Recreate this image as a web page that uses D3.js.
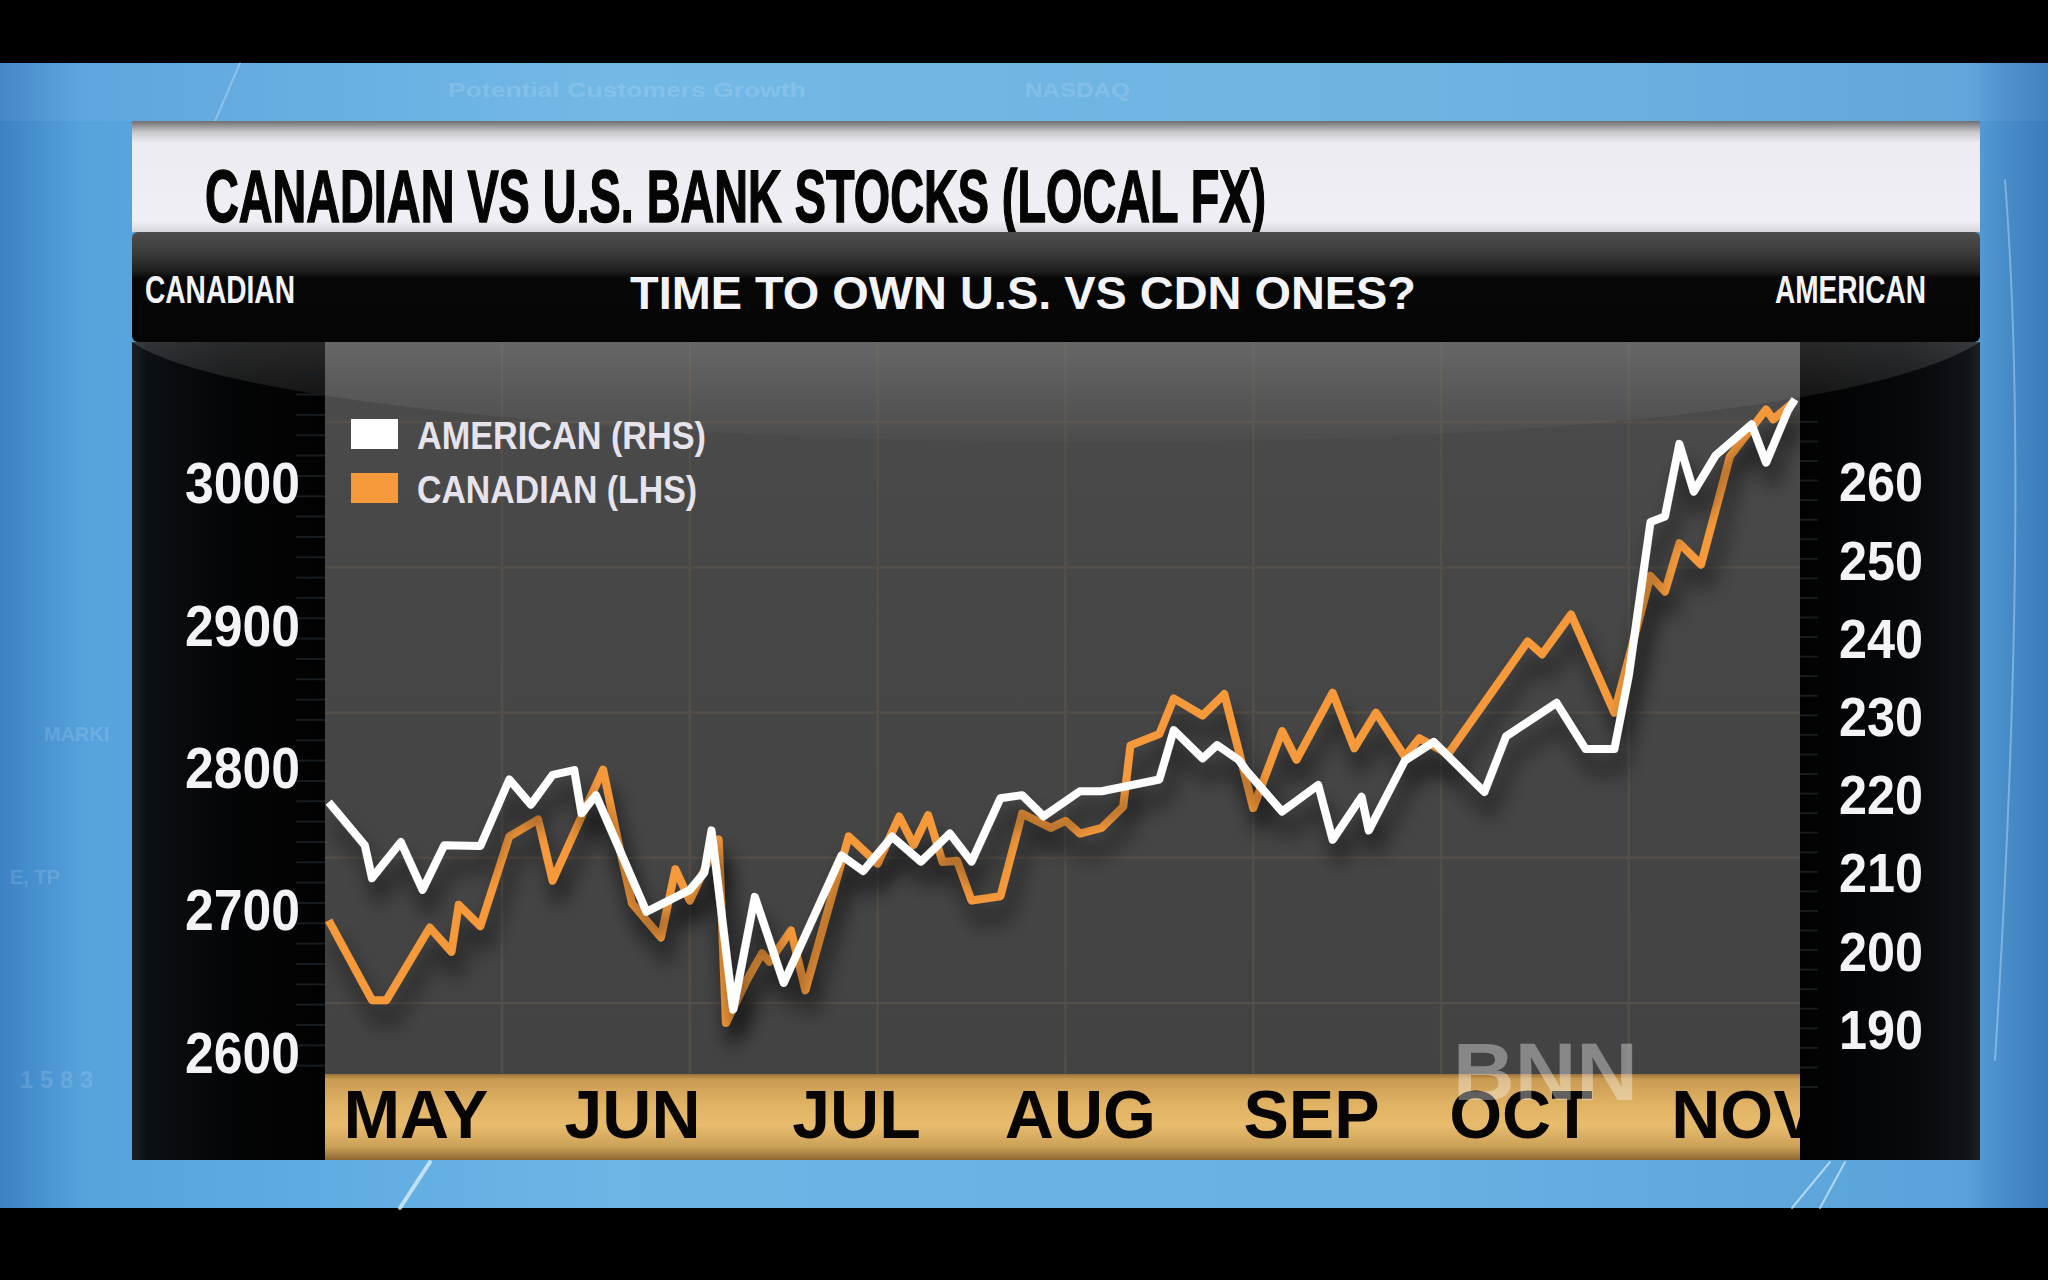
<!DOCTYPE html>
<meta charset="utf-8">
<script src="https://d3js.org/d3.v7.min.js"></script>
<style>
body { margin: 0; background: #000; }
</style>
<div id="chart"></div>
<script>
// trading data (day = days after May 1)
var usDay = [2,7,8,12,15,18,23,27,30,33,36,37,39,46,52,54,55,58,61,65,
  73,76,80,84,88,91,95,98,101,106,109,117,119,123,125,128,129,134,139,141,
  145,146,151,155,162,165,172,176,180,182,185,187,189,191,194,199,201,204,205];
var usVal = [218.9,213.4,209.2,213.8,207.7,213.4,213.3,221.8,218.6,222.4,
  223.0,217.5,219.8,204.9,207.7,209.9,215.3,192.4,206.8,195.8,
  212.1,210.1,214.5,211.3,214.9,211.3,219.4,219.8,217.1,220.3,
  220.3,221.8,228.1,224.5,226.2,224.3,223.0,217.7,221.1,214.1,
  219.6,215.3,224.2,226.6,220.2,227.3,231.6,225.7,225.7,235.1,
  254.7,255.4,264.7,258.6,263.2,267.2,262.3,268.9,270.4];

var cdnDay = [2,8,10,16,19,20,23,27,31,33,37,40,42,44,48,50,52,56,57,60,
  62,63,66,68,74,78,81,83,85,87,89,91,95,98,102,104,106,109,112,113,
  117,119,123,126,130,134,136,141,144,147,151,153,157,168,170,174,180,185,187,189,
  192,196,201,202,205];
var cdnVal = [2692,2636,2636,2687,2670,2703,2688,2751,2763,2720,
  2765,2798,2749,2704,2680,2728,2706,2749,2620,2651,
  2669,2663,2685,2643,2751,2732,2765,2745,2766,2733,
  2734,2706,2709,2767,2757,2762,2753,2757,2772,2815,
  2823,2848,2836,2851,2771,2825,2805,2852,2813,2838,
  2807,2820,2809,2888,2879,2907,2838,2934,2923,2957,
  2942,3018,3051,3044,3057];

var monthNames = ["MAY","JUN","JUL","AUG","SEP","OCT","NOV"];
var monthDay = [14, 44, 75, 106, 138, 167, 198];
var leftTicks = [2600, 2700, 2800, 2900, 3000];
var rightTicks = [190, 200, 210, 220, 230, 240, 250, 260];
var gridDay = [26, 52, 78, 104, 130, 156, 182];
var gridVal = [3042, 2940, 2838, 2736, 2634];

var W = 2048, H = 1280;
var plot = {left: 325, right: 1800, top: 342, bottom: 1074};
var panel = {left: 132, right: 1980, top: 232, bottom: 1160};
var font = "'Liberation Sans',Arial,Helvetica,sans-serif";

var svg = d3.select("#chart").append("svg")
  .attr("width", W).attr("height", H);

var defs = svg.append("defs");
function grad(id, stops, vertical) {
  var g = defs.append("linearGradient").attr("id", id)
    .attr("x1", 0).attr("y1", 0).attr("x2", vertical ? 0 : 1).attr("y2", vertical ? 1 : 0);
  stops.forEach(function(s) {
    g.append("stop").attr("offset", s[0]).attr("stop-color", s[1])
      .attr("stop-opacity", s[2] == null ? 1 : s[2]);
  });
}
grad("bg", [[0,"#3b82c4"],[0.04,"#56a2dc"],[0.3,"#6cb6e6"],[0.7,"#66b0e2"],[0.96,"#5aa3da"],[0.975,"#4a90cc"],[1,"#3a7cbc"]]);
grad("title", [[0,"#6e6e70"],[0.1,"#c9c9cd"],[0.2,"#ecebf2"],[0.9,"#f0eff6"],[1,"#d6d6dc"]], true);
grad("head", [[0,"#4e4e4e"],[0.2,"#3a3a3a"],[0.36,"#1e1e1e"],[0.42,"#070707"],[1,"#050505"]], true);
grad("colL", [[0,"#1a2026"],[0.08,"#0c1014"],[0.5,"#040506"],[1,"#020202"]]);
grad("colR", [[0,"#020202"],[0.6,"#06080a"],[0.93,"#101418"],[1,"#1c2228"]]);
grad("plotBg", [[0,"#4c4c4c"],[0.3,"#474747"],[1,"#434343"]], true);
grad("gloss", [[0,"#ffffff",0.15],[0.5,"#ffffff",0.08],[1,"#ffffff",0.015]], true);
grad("gold", [[0,"#9a7038"],[0.06,"#c99a52"],[0.35,"#e0b264"],[0.6,"#e8bc6e"],[0.85,"#caa058"],[1,"#8e6632"]], true);

var shadow = defs.append("filter").attr("id", "shadow")
  .attr("x", "-10%").attr("y", "-20%").attr("width", "120%").attr("height", "160%");
shadow.append("feDropShadow").attr("dx", 6).attr("dy", 20)
  .attr("stdDeviation", 10).attr("flood-color", "#000").attr("flood-opacity", 0.65);

defs.append("clipPath").attr("id", "plotClip").append("rect")
  .attr("x", plot.left).attr("y", plot.top)
  .attr("width", plot.right - plot.left).attr("height", plot.bottom - plot.top);
defs.append("clipPath").attr("id", "goldClip").append("rect")
  .attr("x", plot.left).attr("y", 0)
  .attr("width", plot.right - plot.left).attr("height", panel.bottom - plot.bottom);

// backdrop
svg.append("rect").attr("width", W).attr("height", H).attr("fill", "#000");
svg.append("rect").attr("y", 63).attr("width", W).attr("height", 1208 - 63).attr("fill", "url(#bg)");
svg.append("rect").attr("y", 63).attr("width", W).attr("height", 58).attr("fill", "#ffffff").attr("opacity", 0.05);

// faint studio graphics
var faint = svg.append("g").attr("fill", "#ffffff").attr("opacity", 0.13)
  .style("font-family", font).style("font-weight", "bold");
faint.append("text").attr("x", 448).attr("y", 97).attr("textLength", 358).attr("lengthAdjust", "spacingAndGlyphs")
  .style("font-size", "20px").text("Potential Customers  Growth");
faint.append("text").attr("x", 1025).attr("y", 97).attr("textLength", 105).attr("lengthAdjust", "spacingAndGlyphs")
  .style("font-size", "20px").text("NASDAQ");
faint.append("text").attr("x", 44).attr("y", 741).style("font-size", "20px").text("MARKI");
faint.append("text").attr("x", 10).attr("y", 884).style("font-size", "20px").text("E, TP");
faint.append("text").attr("x", 20).attr("y", 1088).style("font-size", "24px").text("1 5 8 3");
var streaks = svg.append("g").attr("fill", "none").attr("stroke", "#e8f6ff").attr("stroke-linecap", "round");
streaks.append("path").attr("d", "M400,1208 L430,1162").attr("stroke-width", 4).attr("opacity", 0.7);
streaks.append("path").attr("d", "M1792,1208 L1830,1162 M1820,1208 L1845,1162").attr("stroke-width", 2).attr("opacity", 0.6);
streaks.append("path").attr("d", "M2005,180 Q2030,500 1995,1060").attr("stroke-width", 2).attr("opacity", 0.35);
streaks.append("path").attr("d", "M240,63 L215,121").attr("stroke-width", 2).attr("opacity", 0.3);

// title bar
svg.append("rect").attr("x", panel.left).attr("y", 121)
  .attr("width", panel.right - panel.left).attr("height", 111).attr("fill", "url(#title)");
svg.append("text").attr("x", 205).attr("y", 222)
  .attr("textLength", 1061).attr("lengthAdjust", "spacingAndGlyphs")
  .style("font-family", font).style("font-weight", "bold").style("font-size", "74px")
  .attr("fill", "#050505").attr("stroke", "#050505").attr("stroke-width", 1.6)
  .text("CANADIAN VS U.S. BANK STOCKS (LOCAL FX)");

// dark panel
svg.append("rect").attr("x", panel.left).attr("y", panel.top)
  .attr("width", panel.right - panel.left).attr("height", plot.top - panel.top)
  .attr("rx", 6).attr("fill", "url(#head)");
svg.append("rect").attr("x", panel.left).attr("y", plot.top)
  .attr("width", plot.left - panel.left).attr("height", panel.bottom - plot.top).attr("fill", "url(#colL)");
svg.append("rect").attr("x", plot.right).attr("y", plot.top)
  .attr("width", panel.right - plot.right).attr("height", panel.bottom - plot.top).attr("fill", "url(#colR)");
svg.append("rect").attr("x", plot.left).attr("y", plot.top)
  .attr("width", plot.right - plot.left).attr("height", plot.bottom - plot.top).attr("fill", "url(#plotBg)");

var head = svg.append("g").attr("fill", "#f4f4f8")
  .style("font-family", font).style("font-weight", "bold");
head.append("text").attr("x", 145).attr("y", 303).attr("textLength", 150)
  .attr("lengthAdjust", "spacingAndGlyphs").style("font-size", "39px").text("CANADIAN");
head.append("text").attr("x", 1926).attr("y", 303).attr("text-anchor", "end").attr("textLength", 151)
  .attr("lengthAdjust", "spacingAndGlyphs").style("font-size", "39px").text("AMERICAN");
head.append("text").attr("x", 1023).attr("y", 309).attr("text-anchor", "middle").attr("textLength", 786)
  .attr("lengthAdjust", "spacingAndGlyphs").style("font-size", "46px").text("TIME TO OWN U.S. VS CDN ONES?");

// scales
var x = d3.scaleLinear().domain([1.49, 205.7]).range([plot.left, plot.right]);
var yL = d3.scaleLinear().domain([2600, 3000]).range([1051.4, 482]);
var yR = d3.scaleLinear().domain([190, 260]).range([1028.3, 480.6]);

// grid
var grid = svg.append("g").attr("stroke", "#59524a").attr("stroke-width", 2.5).attr("opacity", 0.75);
grid.selectAll(".gx").data(gridDay).enter().append("line")
  .attr("x1", function(d) { return x(d); }).attr("x2", function(d) { return x(d); })
  .attr("y1", plot.top).attr("y2", plot.bottom);
grid.selectAll(".gy").data(gridVal).enter().append("line")
  .attr("x1", plot.left).attr("x2", plot.right)
  .attr("y1", function(d) { return yL(d); }).attr("y2", function(d) { return yL(d); });

// gloss over the top of the panel
svg.append("path")
  .attr("d", "M" + panel.left + "," + plot.top + " L" + panel.right + "," + plot.top +
    " C1750,490 300,460 " + panel.left + "," + plot.top + " Z")
  .attr("fill", "url(#gloss)");

// faint minor ticks on the side columns
svg.append("g").attr("stroke", "#171c20").attr("stroke-width", 2)
  .selectAll("line").data(d3.range(2590, 3080, 100 / 7)).enter().append("line")
  .attr("x1", 296).attr("x2", plot.left)
  .attr("y1", function(d) { return yL(d); }).attr("y2", function(d) { return yL(d); });
svg.append("g").attr("stroke", "#171c20").attr("stroke-width", 2)
  .selectAll("line").data(d3.range(182.5, 270, 2.5)).enter().append("line")
  .attr("x1", plot.right).attr("x2", plot.right + 18)
  .attr("y1", function(d) { return yR(d); }).attr("y2", function(d) { return yR(d); });

// axes
var axL = svg.append("g").attr("transform", "translate(300,0)")
  .call(d3.axisLeft(yL).tickValues(leftTicks).tickSize(0).tickPadding(0).tickFormat(d3.format("d")));
axL.select(".domain").remove();
axL.selectAll("text").attr("dy", "0.36em").attr("fill", "#f3f3f7")
  .attr("textLength", 115).attr("lengthAdjust", "spacingAndGlyphs")
  .style("font-family", font).style("font-weight", "bold").style("font-size", "58px");

var axR = svg.append("g").attr("transform", "translate(1839,0)")
  .call(d3.axisRight(yR).tickValues(rightTicks).tickSize(0).tickPadding(0).tickFormat(d3.format("d")));
axR.select(".domain").remove();
axR.selectAll("text").attr("dy", "0.36em").attr("fill", "#f3f3f7")
  .attr("textLength", 84).attr("lengthAdjust", "spacingAndGlyphs")
  .style("font-family", font).style("font-weight", "bold").style("font-size", "56px");

// gold month band
svg.append("rect").attr("x", plot.left).attr("y", plot.bottom)
  .attr("width", plot.right - plot.left).attr("height", panel.bottom - plot.bottom).attr("fill", "url(#gold)");
var axX = svg.append("g").attr("transform", "translate(0," + plot.bottom + ")")
  .attr("clip-path", "url(#goldClip)")
  .call(d3.axisBottom(x).tickValues(monthDay).tickSize(0)
    .tickFormat(function(d, i) { return monthNames[i]; }));
axX.select(".domain").remove();
axX.selectAll("text").attr("y", 64).attr("dy", 0).attr("fill", "#080604")
  .style("font-family", font).style("font-weight", "bold").style("font-size", "68px");

// lines
var lines = svg.append("g").attr("clip-path", "url(#plotClip)");
var lineCdn = d3.line().x(function(d) { return x(d[0]); }).y(function(d) { return yL(d[1]); });
var lineUs = d3.line().x(function(d) { return x(d[0]); }).y(function(d) { return yR(d[1]); });
lines.append("path").datum(d3.zip(cdnDay, cdnVal))
  .attr("d", lineCdn).attr("fill", "none").attr("stroke", "#f5993b")
  .attr("stroke-width", 8).attr("stroke-linejoin", "round").attr("filter", "url(#shadow)");
lines.append("path").datum(d3.zip(usDay, usVal))
  .attr("d", lineUs).attr("fill", "none").attr("stroke", "#ffffff")
  .attr("stroke-width", 8).attr("stroke-linejoin", "round").attr("filter", "url(#shadow)");

// legend
var legend = svg.append("g");
legend.append("rect").attr("x", 351).attr("y", 419).attr("width", 47).attr("height", 30).attr("fill", "#ffffff");
legend.append("rect").attr("x", 351).attr("y", 473).attr("width", 47).attr("height", 30).attr("fill", "#f5993b");
legend.append("text").attr("x", 417).attr("y", 449).attr("textLength", 289).attr("lengthAdjust", "spacingAndGlyphs")
  .attr("fill", "#e7e3ec").style("font-family", font).style("font-weight", "bold").style("font-size", "39px")
  .text("AMERICAN (RHS)");
legend.append("text").attr("x", 417).attr("y", 503).attr("textLength", 280).attr("lengthAdjust", "spacingAndGlyphs")
  .attr("fill", "#e7e3ec").style("font-family", font).style("font-weight", "bold").style("font-size", "39px")
  .text("CANADIAN (LHS)");

// watermark
svg.append("text").attr("x", 1453).attr("y", 1100).attr("textLength", 185).attr("lengthAdjust", "spacingAndGlyphs")
  .attr("fill", "#ffffff").attr("opacity", 0.36)
  .style("font-family", font).style("font-weight", "bold").style("font-size", "82px")
  .text("BNN");
</script>
